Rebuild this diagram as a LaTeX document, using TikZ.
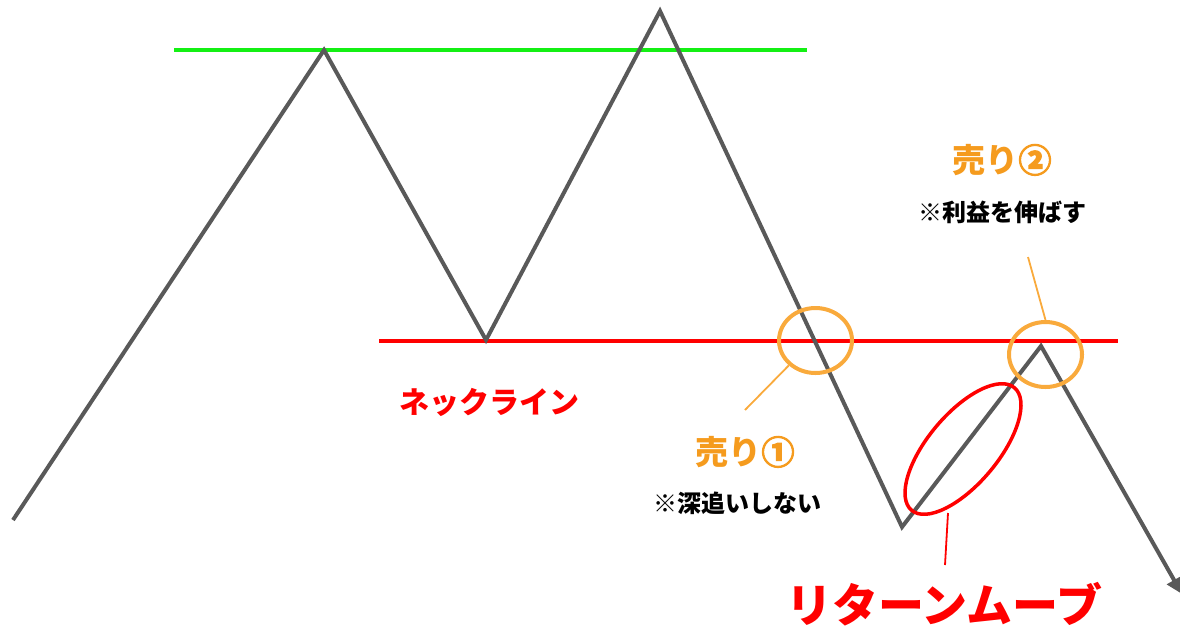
\documentclass[tikz,border=0pt]{standalone}
\usepackage{fontspec}
\newfontfamily\jp{Noto Sans CJK JP}
\newfontfamily\jpheavy{Noto Sans CJK JP}[FakeBold=3]
\usetikzlibrary{arrows.meta,shapes.geometric}
\definecolor{zgray}{RGB}{89,89,89}
\definecolor{zgreen}{RGB}{20,240,20}
\definecolor{zred}{RGB}{255,0,0}
\definecolor{zorange}{RGB}{249,170,60}
\definecolor{ztorange}{RGB}{245,155,30}
\tikzset{
  price/.style={draw=zgray, line width=4pt, line join=miter},
  level/.style={line width=4pt},
  mark circ/.style={draw=zorange, line width=4pt, ellipse, minimum width=73pt, minimum height=65pt, inner sep=0pt},
  leader/.style={draw=zorange, line width=1.8pt},
  lbl/.style={inner sep=0pt, font=\jp\bfseries},
}
\begin{document}
\begin{tikzpicture}[x=1pt,y=-1pt]
\useasboundingbox (0,0) rectangle (1180,630);
% zigzag points
\coordinate (p0) at (13,520);
\coordinate (p1) at (324,50);
\coordinate (p2) at (486,340);
\coordinate (p3) at (660,11);
\coordinate (p4) at (902,527);
\coordinate (p5) at (1041,346);
\coordinate (p6) at (1182,594);
% levels
\coordinate (g0) at (174,50);
\coordinate (g1) at (807,50);
\coordinate (r0) at (379,341);
\coordinate (r1) at (1118,341);
\draw[level, zgreen] (g0) -- (g1);
\draw[level, zred] (r0) -- (r1);
% price path
\draw[price, -{Triangle[length=16pt,width=16pt]}] (p0) -- (p1) -- (p2) -- (p3) -- (p4) -- (p5) -- (p6);
% orange circles
\node[mark circ] (c1) at (815.5,340.5) {};
\node[mark circ] (c2) at (1045.5,354.5) {};
\coordinate (l1) at (745,410);
\coordinate (l2) at (1028,257);
\draw[leader] (c1.223) -- (l1);
\draw[leader] (c2.north) -- (l2);
% return move ellipse
\draw[zred, line width=3.5pt, rotate around={50:(963,449)}] (963,449) ellipse [x radius=80, y radius=35];
\coordinate (e0) at (948,513);
\coordinate (e1) at (945,565);
\draw[zred, line width=1.8pt] (e0) -- (e1);
% labels
\node[lbl, text=zred, font=\jp\bfseries\fontsize{30}{32}\selectfont] (neck) at (489,402) {ネックライン};
\node[lbl, text=ztorange, font=\jp\bfseries\fontsize{33}{35}\selectfont] (s1) at (745,452) {売り{\jpheavy ①}};
\node[lbl, text=black, font=\jp\bfseries\fontsize{24}{26}\selectfont] (n1) at (737,503) {※深追いしない};
\node[lbl, text=ztorange, font=\jp\bfseries\fontsize{33}{35}\selectfont] (s2) at (1002,160) {売り{\jpheavy ②}};
\node[lbl, text=black, font=\jp\bfseries\fontsize{24}{26}\selectfont] (n2) at (1002,212) {※利益を伸ばす};
\node[lbl, text=zred, font=\jp\bfseries\fontsize{46}{48}\selectfont] (rm) at (944,604) {リターンムーブ};
\end{tikzpicture}
\end{document}
